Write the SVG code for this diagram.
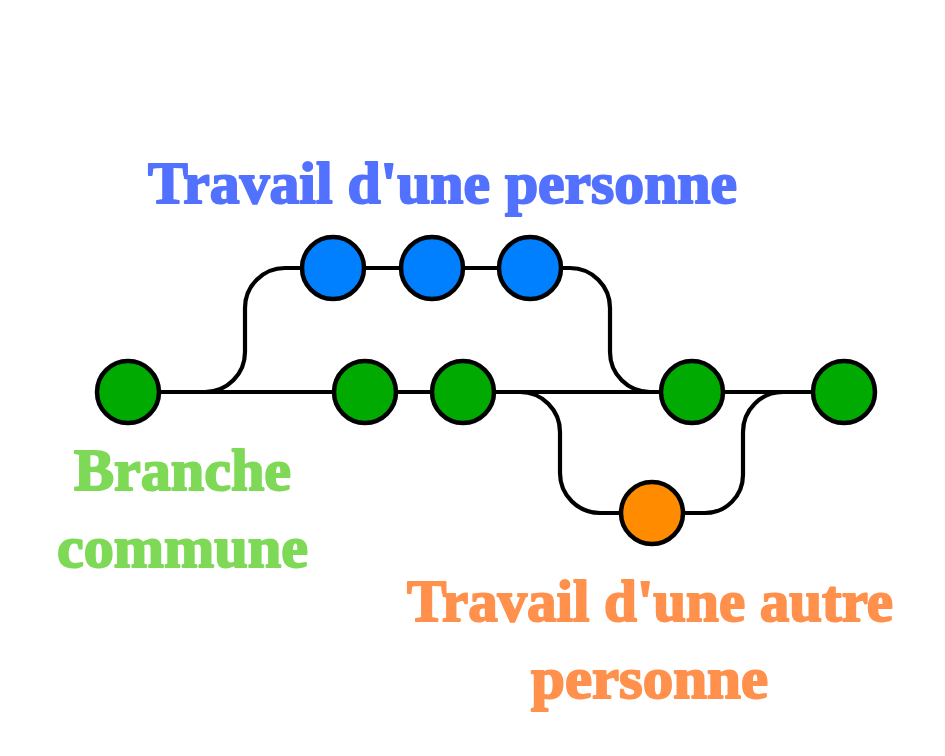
<svg xmlns="http://www.w3.org/2000/svg" width="945" height="756" viewBox="0 0 945 756">
<style>
.lbl{font-family:"Liberation Serif","DejaVu Serif",serif;font-weight:bold;font-size:59px;stroke-width:2;stroke-linejoin:round}
.blue-t{fill:#5271FF;stroke:#5271FF}
.green-t{fill:#7ED957;stroke:#7ED957}
.orange-t{fill:#FF914D;stroke:#FF914D}
.edge{fill:none;stroke:#000;stroke-width:4.2}
.node{stroke:#000;stroke-width:4.5}
.g{fill:#00AA00}
.b{fill:#0080FF}
.o{fill:#FF8C00}
</style>
<rect width="945" height="756" fill="#fff"/>
<g id="connectors">
<path class="edge" d="M128,392 H844"/>
<path class="edge" d="M205,392 A40,40 0 0 0 245,352 V308 A40,40 0 0 1 285,268 H570 A40,40 0 0 1 610,308 V352 A40,40 0 0 0 650,392"/>
<path class="edge" d="M520,392 A40,40 0 0 1 560,432 V473 A40,40 0 0 0 600,513 H705 A38,38 0 0 0 743,475 V432 A40,40 0 0 1 783,392"/>
</g>
<g id="node-g1"><circle class="node g" cx="128" cy="392" r="31"/></g>
<g id="node-g2"><circle class="node g" cx="365" cy="392" r="31"/></g>
<g id="node-g3"><circle class="node g" cx="463" cy="392" r="31"/></g>
<g id="node-g4"><circle class="node g" cx="692" cy="392" r="31"/></g>
<g id="node-g5"><circle class="node g" cx="844" cy="392" r="31"/></g>
<g id="node-b1"><circle class="node b" cx="333" cy="268" r="31"/></g>
<g id="node-b2"><circle class="node b" cx="432" cy="268" r="31"/></g>
<g id="node-b3"><circle class="node b" cx="530" cy="268" r="31"/></g>
<g id="node-o1"><circle class="node o" cx="652" cy="513" r="31"/></g>
<g id="label-blue"><text class="lbl blue-t" x="148" y="203" textLength="589" lengthAdjust="spacingAndGlyphs">Travail d'une personne</text></g>
<g id="label-green">
<text class="lbl green-t" x="74" y="490" textLength="217" lengthAdjust="spacingAndGlyphs">Branche</text>
<text class="lbl green-t" x="57" y="567" textLength="251" lengthAdjust="spacingAndGlyphs">commune</text>
</g>
<g id="label-orange">
<text class="lbl orange-t" x="407" y="621" textLength="486" lengthAdjust="spacingAndGlyphs">Travail d'une autre</text>
<text class="lbl orange-t" x="531" y="698" textLength="237" lengthAdjust="spacingAndGlyphs">personne</text>
</g>
</svg>
